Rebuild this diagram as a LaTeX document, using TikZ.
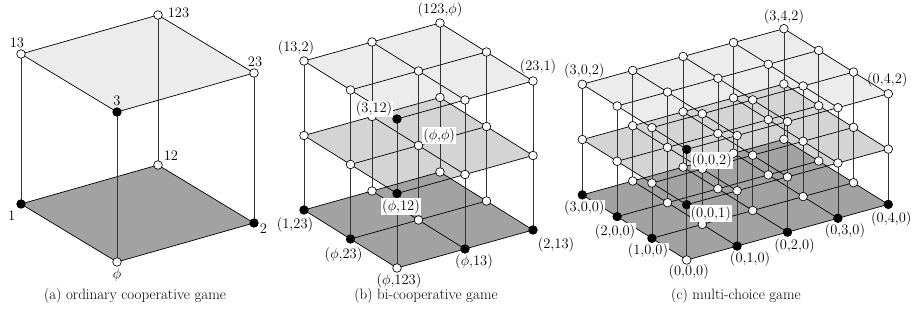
\documentclass[tikz,border=0pt]{standalone}
\usepackage{amsmath,amssymb}
\usepackage{tikz}
\usetikzlibrary{positioning,calc}
\definecolor{facetop}{gray}{0.925}
\definecolor{facemid}{gray}{0.83}
\definecolor{facebot}{gray}{0.635}
\tikzset{
    dot/.style = {draw, circle, fill=white, inner sep=0pt, minimum size=8.6pt, line width=0.65pt},
    edge/.style = {draw, line width=0.7pt},
    post/.style = {draw, line width=0.7pt, black!80},
    lab/.style = {inner sep=1pt, font=\fontsize{14.5}{16}\selectfont},
    wlab/.style = {lab, fill=white},
    capt/.style = {font=\fontsize{15}{17}\selectfont},
}
\newcommand{\ept}{\ensuremath{\phi}}

\begin{document}
\begin{tikzpicture}[x=1pt, y=1pt]
    \useasboundingbox (0,0) rectangle (913,320);

    % (a) ordinary cooperative game
    \begin{scope}[shift={(117pt,58pt)}, x={(-96pt,58pt)}, y={(137pt,39pt)}, z={(0pt,150pt)}]
        \foreach \i in {0,1} \foreach \j in {0,1} \foreach \k in {0,1}
            \coordinate (pa\i\j\k) at (\i,\j,\k);
        \fill[facetop] (pa001) -- (pa101) -- (pa111) -- (pa011) -- cycle;
        \fill[facebot] (pa000) -- (pa100) -- (pa110) -- (pa010) -- cycle;
        \foreach \k in {0,1}
            \draw[edge] (pa00\k) -- (pa10\k) -- (pa11\k) -- (pa01\k) -- cycle;
        \foreach \i in {0,1} \foreach \j in {0,1}
            \draw[post] (pa\i\j0) -- (pa\i\j1);
        \foreach \i in {0,1} \foreach \j in {0,1} \foreach \k in {0,1} {
            \pgfmathtruncatemacro{\nz}{(\i>0)+(\j>0)+(\k>0)}
            \ifnum\nz=1 \def\dc{black}\else\def\dc{white}\fi
            \node[dot, fill=\dc] (da\i\j\k) at (pa\i\j\k) {};
        }
    \end{scope}
    \node[lab, above=0pt of da101, xshift=-4pt] (la101) {13};
    \node[lab, right=4pt of da111, yshift=2pt] (la111) {123};
    \node[lab, above=0pt of da011, xshift=1pt] (la011) {23};
    \node[lab, above=0pt of da001] (la001) {3};
    \node[lab, right=0pt of da110, yshift=9pt] (la110) {12};
    \node[lab, left=0pt of da100, yshift=-12pt] (la100) {1};
    \node[lab, right=0pt of da010, yshift=-6pt] (la010) {2};
    \node[lab, below=1pt of da000] (la000) {\ept};
    \node[capt] (capa) at (135,24) {(a) ordinary cooperative game};

    % (b) bi-cooperative game
    \begin{scope}[shift={(397pt,52pt)}, x={(-46.5pt,29pt)}, y={(68pt,19pt)}, z={(0pt,74.5pt)}]
        \foreach \i in {0,1,2} \foreach \j in {0,1,2} \foreach \k in {0,1,2}
            \coordinate (pb\i\j\k) at (\i,\j,\k);
        \fill[facetop] (pb002) -- (pb202) -- (pb222) -- (pb022) -- cycle;
        \fill[facemid] (pb001) -- (pb201) -- (pb221) -- (pb021) -- cycle;
        \fill[facebot] (pb000) -- (pb200) -- (pb220) -- (pb020) -- cycle;
        \foreach \k in {0,1,2} \foreach \n in {0,1,2} {
            \draw[edge] (pb0\n\k) -- (pb2\n\k);
            \draw[edge] (pb\n0\k) -- (pb\n2\k);
        }
        \foreach \i in {0,1,2} \foreach \j in {0,1,2}
            \draw[post] (pb\i\j0) -- (pb\i\j2);
        \foreach \i in {0,1,2} \foreach \j in {0,1,2} \foreach \k in {0,1,2} {
            \pgfmathtruncatemacro{\nz}{(\i>0)+(\j>0)+(\k>0)}
            \ifnum\nz=1 \def\dc{black}\else\def\dc{white}\fi
            \node[dot, fill=\dc] (db\i\j\k) at (pb\i\j\k) {};
        }
    \end{scope}
    \node[lab, above=0pt of db222] (lb222) {(123,\ept)};
    \node[lab, above=0pt of db202, xshift=-8pt] (lb202) {(13,2)};
    \node[lab, above=1pt of db022, xshift=5pt] (lb022) {(23,1)};
    \node[wlab, left=-1pt of db002, yshift=10pt] (lb002) {(3,12)};
    \node[wlab, right=-1pt of db111, yshift=10pt] (lb111) {(\ept,\ept)};
    \node[wlab, below=0pt of db001, xshift=4pt] (lb001) {(\ept,12)};
    \node[lab, below=2pt of db200, xshift=-9pt] (lb200) {(1,23)};
    \node[lab, below=3pt of db100, xshift=-7pt] (lb100) {(\ept,23)};
    \node[lab, below=0pt of db000, xshift=2pt] (lb000) {(\ept,123)};
    \node[lab, below=0pt of db010, xshift=9pt] (lb010) {(\ept,13)};
    \node[lab, below=2pt of db020, xshift=23pt] (lb020) {(2,13)};
    \node[capt] (capb) at (426,24) {(b) bi-cooperative game};

    % (c) multi-choice game
    \begin{scope}[shift={(686.7pt,60pt)}, x={(-34.8pt,21.7pt)}, y={(50.4pt,13.9pt)}, z={(0pt,55.3pt)}]
        \foreach \i in {0,...,3} \foreach \j in {0,...,4} \foreach \k in {0,1,2}
            \coordinate (pc\i\j\k) at (\i,\j,\k);
        \fill[facetop] (pc002) -- (pc302) -- (pc342) -- (pc042) -- cycle;
        \fill[facemid] (pc001) -- (pc301) -- (pc341) -- (pc041) -- cycle;
        \fill[facebot] (pc000) -- (pc300) -- (pc340) -- (pc040) -- cycle;
        \foreach \k in {0,1,2} {
            \foreach \j in {0,...,4}
                \draw[edge] (pc0\j\k) -- (pc3\j\k);
            \foreach \i in {0,...,3}
                \draw[edge] (pc\i0\k) -- (pc\i4\k);
        }
        \foreach \i in {0,...,3} \foreach \j in {0,...,4}
            \draw[post] (pc\i\j0) -- (pc\i\j2);
        \foreach \i in {0,...,3} \foreach \j in {0,...,4} \foreach \k in {0,1,2} {
            \pgfmathtruncatemacro{\nz}{(\i>0)+(\j>0)+(\k>0)}
            \ifnum\nz=1 \def\dc{black}\else\def\dc{white}\fi
            \node[dot, fill=\dc] (dc\i\j\k) at (pc\i\j\k) {};
        }
    \end{scope}
    \node[lab, above=-1pt of dc342] (lc342) {(3,4,2)};
    \node[lab, above=0pt of dc302, xshift=2pt] (lc302) {(3,0,2)};
    \node[lab, above=1pt of dc042, xshift=-1pt] (lc042) {(0,4,2)};
    \node[wlab, below=0pt of dc300, xshift=2pt] (lc300) {(3,0,0)};
    \node[wlab, below=2pt of dc200, xshift=-2pt] (lc200) {(2,0,0)};
    \node[wlab, below=0pt of dc100, xshift=-4pt] (lc100) {(1,0,0)};
    \node[lab, below=-1pt of dc000, xshift=2pt] (lc000) {(0,0,0)};
    \node[lab, below=0pt of dc010, xshift=13pt] (lc010) {(0,1,0)};
    \node[lab, below=1pt of dc020, xshift=7pt] (lc020) {(0,2,0)};
    \node[lab, below=0pt of dc030, xshift=7pt] (lc030) {(0,3,0)};
    \node[lab, below=1pt of dc040, xshift=3pt] (lc040) {(0,4,0)};
    \node[wlab, right=-2pt of dc001, yshift=-9pt] (lc001) {(0,0,1)};
    \node[wlab, right=-1pt of dc002, yshift=-11pt] (lc002) {(0,0,2)};
    \node[capt] (capc) at (736,24) {(c) multi-choice game};
\end{tikzpicture}
\end{document}
